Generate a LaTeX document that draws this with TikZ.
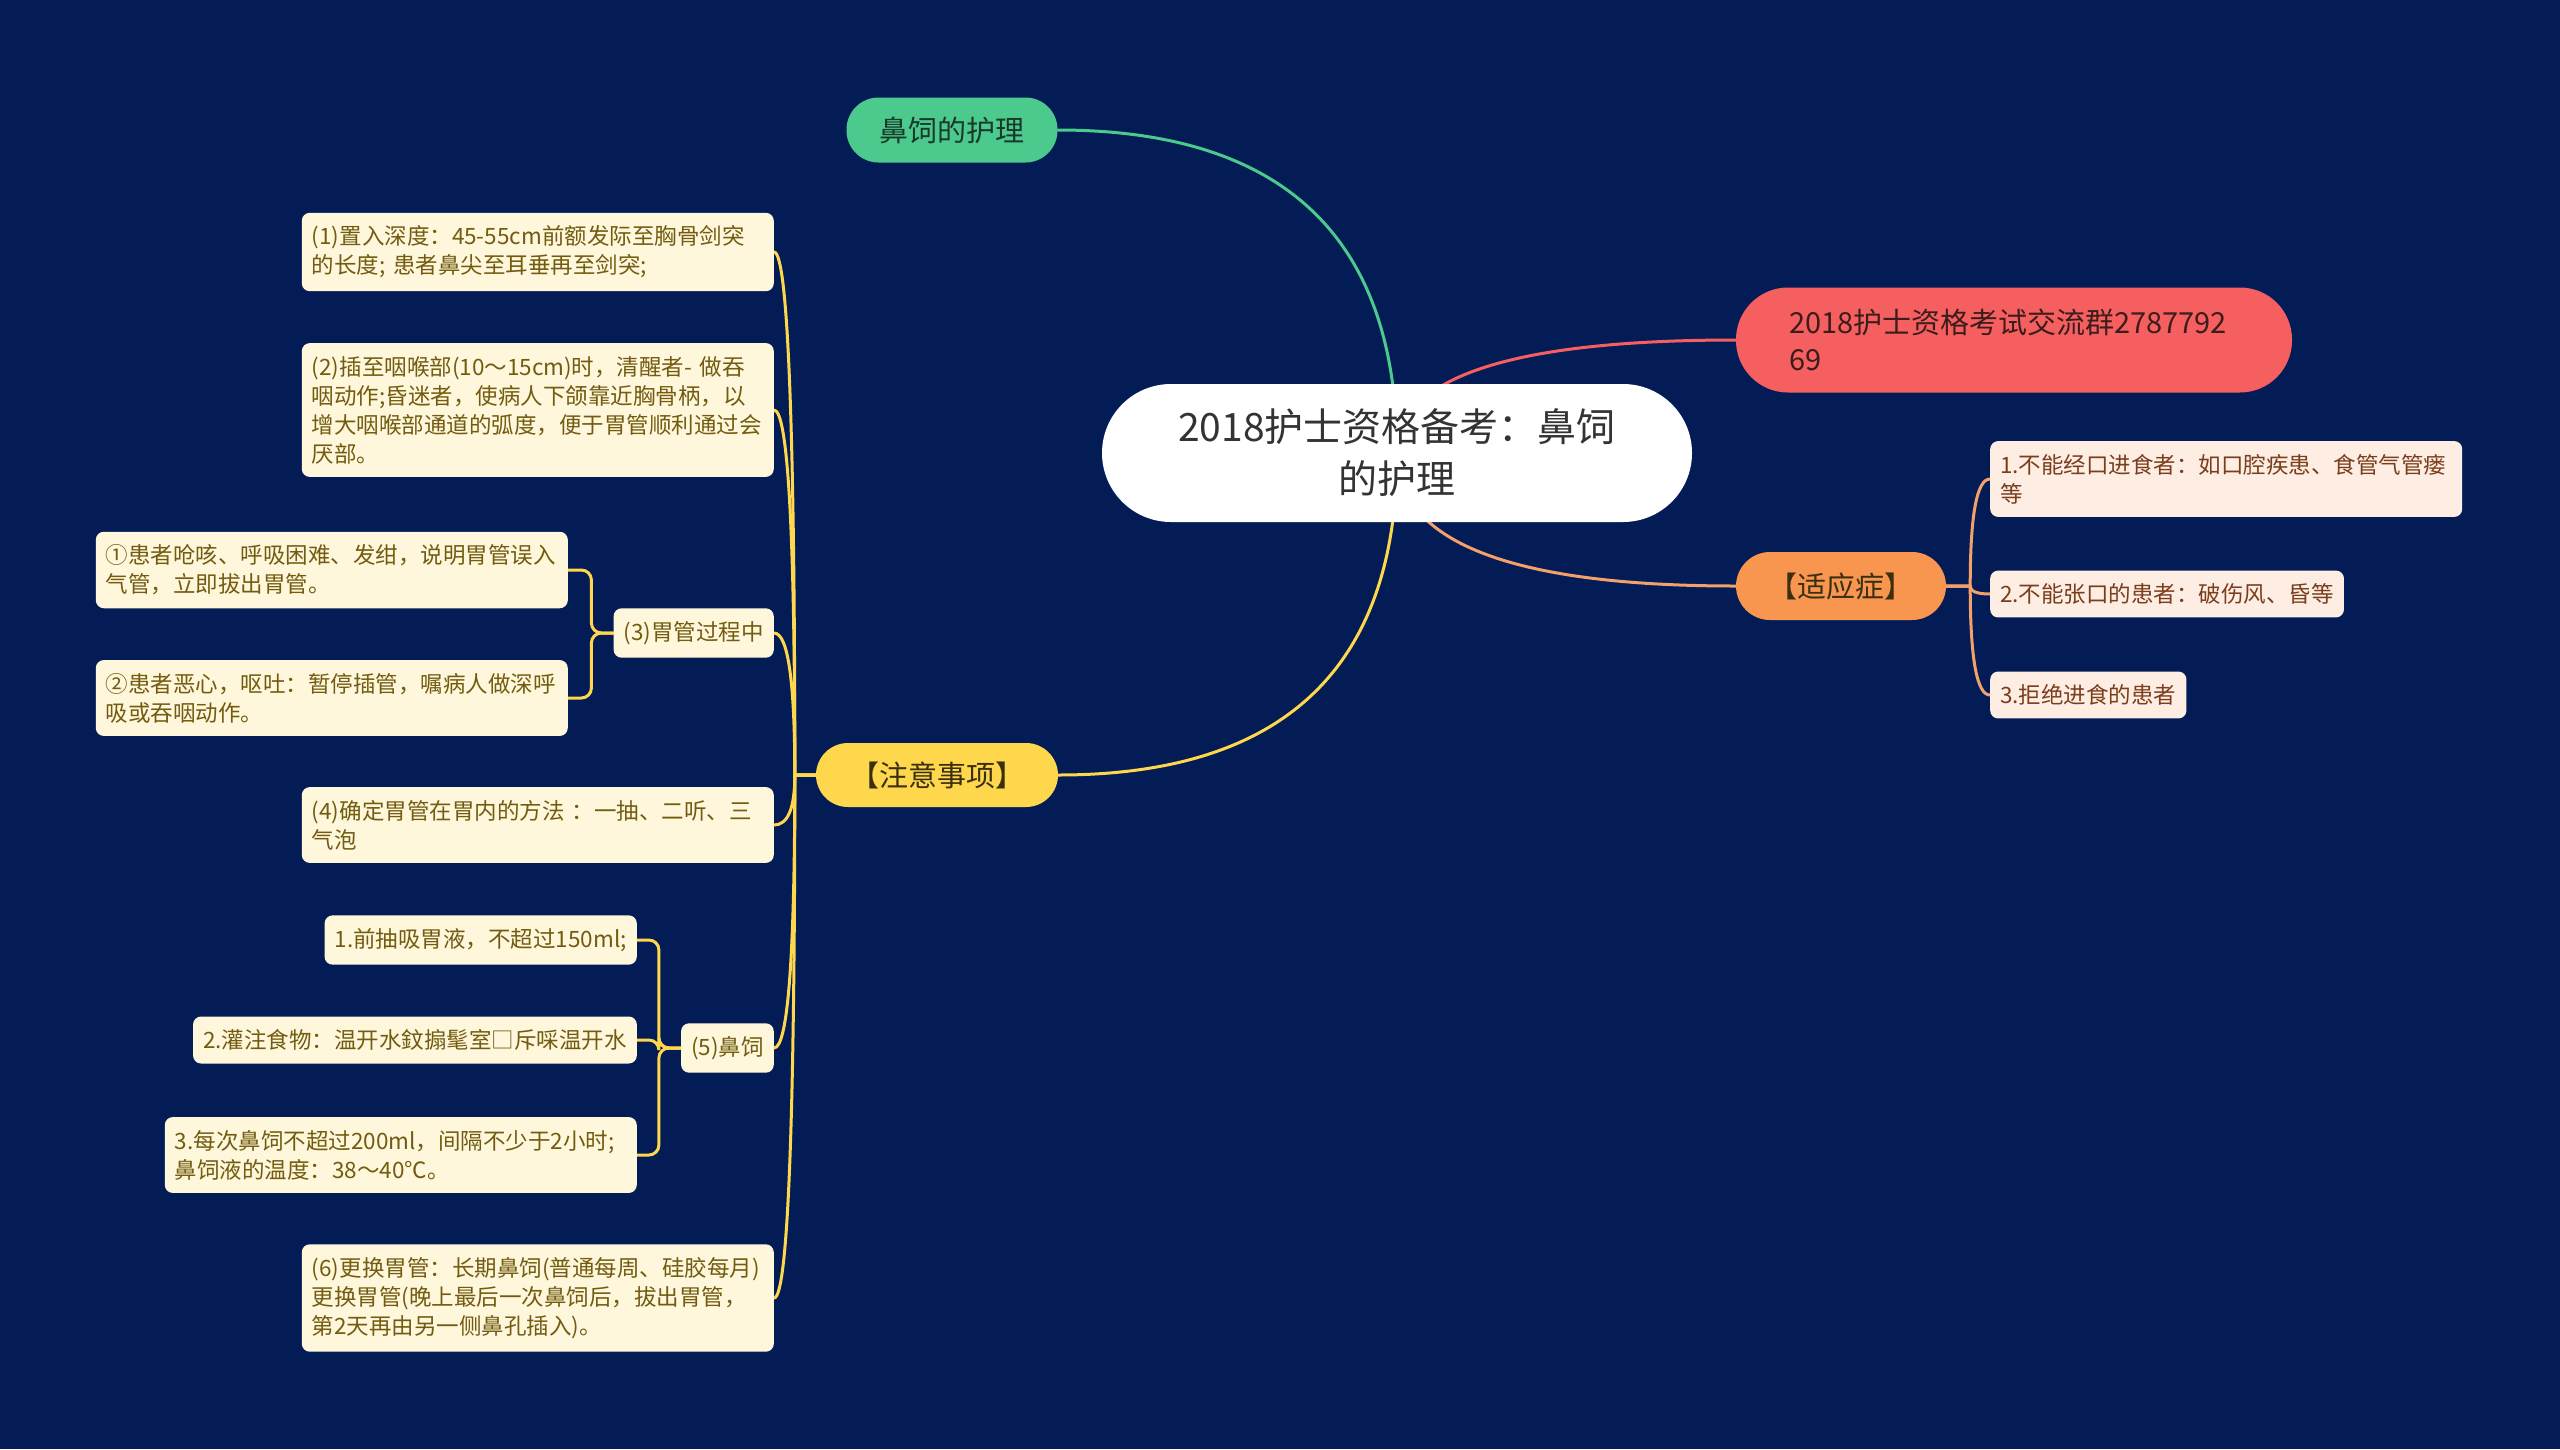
\documentclass[tikz,border=0pt]{standalone}
\usepackage{fontspec}
\setmainfont{Noto Sans CJK SC}
\usetikzlibrary{calc}

\definecolor{bgnavy}{HTML}{041C56}
\definecolor{rootgray}{HTML}{333333}
\definecolor{caregreen}{HTML}{4CC98C}
\definecolor{caretext}{HTML}{183A2A}
\definecolor{groupred}{HTML}{F65F5F}
\definecolor{grouptext}{HTML}{3C1C1C}
\definecolor{indorange}{HTML}{F8964F}
\definecolor{indline}{HTML}{F3A06A}
\definecolor{indtext}{HTML}{7A3E1C}
\definecolor{indcream}{HTML}{FDEDE3}
\definecolor{noteyellow}{HTML}{FED74C}
\definecolor{notedark}{HTML}{3A3010}
\definecolor{notecream}{HTML}{FEF7DC}
\definecolor{notetext}{HTML}{735C10}

\pgfdeclarelayer{bg}
\pgfdeclarelayer{links}
\pgfsetlayers{bg,links,main}

\tikzset{
  qcurve/.style={to path={.. controls ($(\tikztostart)!0.6667!(\tikztostart|-\tikztotarget)$)
    and ($(\tikztotarget)!0.6667!(\tikztostart|-\tikztotarget)$) .. (\tikztotarget)}},
}

\begin{document}
\begin{tikzpicture}[x=1pt, y=-1pt,
  rootbox/.style={fill=white, text=rootgray, rounded corners=69pt, minimum width=590pt,
    minimum height=138pt, align=center, font=\fontsize{39}{52}\selectfont},
  topic/.style={font=\fontsize{29}{37}\selectfont},
  noteleaf/.style={fill=notecream, text=notetext, rounded corners=8pt, inner xsep=10pt,
    inner ysep=13pt, align=left, anchor=east, font=\fontsize{22.5}{29}\selectfont},
  notewide/.style={noteleaf, text width=452pt},
  indleaf/.style={noteleaf, fill=indcream, text=indtext, anchor=west},
  link/.style={line width=3pt, line cap=round},
]
  % Background
  \begin{pgfonlayer}{bg}
    \fill[bgnavy] (0,0) rectangle (2560,1449);
  \end{pgfonlayer}
  \useasboundingbox (0,0) rectangle (2560,1449);

  % Root
  \node[rootbox] (root) at (1397,453) {2018护士资格备考：鼻饲\\的护理};

  % Main topics
  \node[topic, fill=caregreen, text=caretext, rounded corners=32pt, minimum width=211pt,
    minimum height=65pt] (care) at (952,130) {鼻饲的护理};
  \node[topic, fill=groupred, text=grouptext, rounded corners=52pt, minimum height=105pt,
    text width=450pt, inner xsep=53pt, align=left] (group) at (2014,340)
    {2018护士资格考试交流群2787792\\69};
  \node[topic, fill=noteyellow, text=notedark, rounded corners=32pt, minimum width=242pt,
    minimum height=64pt] (notes) at (937,775) {【注意事项】};
  \node[topic, fill=indorange, text=notedark, rounded corners=34pt, minimum width=210pt,
    minimum height=68pt] (indic) at (1841,586) {【适应症】};

  % Indications
  \node[indleaf, text width=452pt] (ind1) at (1990,479)
    {1.不能经口进食者：如口腔疾患、食管气管瘘\\等};
  \node[indleaf] (ind2) at (1990,594) {2.不能张口的患者：破伤风、昏等};
  \node[indleaf] (ind3) at (1990,695) {3.拒绝进食的患者};

  % Notes
  \node[notewide] (n1) at (774,252)
    {(1)置入深度：45-55cm前额发际至胸骨剑突\\的长度; 患者鼻尖至耳垂再至剑突;};
  \node[notewide] (n2) at (774,410)
    {(2)插至咽喉部(10～15cm)时，清醒者- 做吞\\咽动作;昏迷者，使病人下颌靠近胸骨柄，以\\增大咽喉部通道的弧度，便于胃管顺利通过会\\厌部。};
  \node[noteleaf] (n3) at (774,633) {(3)胃管过程中};
  \node[notewide] (n31) at (568,570)
    {①患者呛咳、呼吸困难、发绀，说明胃管误入\\气管，立即拔出胃管。};
  \node[notewide] (n32) at (568,698)
    {②患者恶心，呕吐：暂停插管，嘱病人做深呼\\吸或吞咽动作。};
  \node[notewide] (n4) at (774,825)
    {(4)确定胃管在胃内的方法 ：一抽、二听、三\\气泡};
  \node[noteleaf] (n5) at (774,1048) {(5)鼻饲};
  \node[noteleaf] (n51) at (637,940) {1.前抽吸胃液，不超过150ml;};
  \node[noteleaf] (n52) at (637,1040) {2.灌注食物：温开水鈫搧髦室□斥啋温开水};
  \node[notewide] (n53) at (637,1155)
    {3.每次鼻饲不超过200ml，间隔不少于2小时;\\鼻饲液的温度：38～40℃。};
  \node[notewide] (n6) at (774,1298)
    {(6)更换胃管：长期鼻饲(普通每周、硅胶每月)\\更换胃管(晚上最后一次鼻饲后，拔出胃管，\\第2天再由另一侧鼻孔插入)。};

  % Spine points
  \coordinate (nspine) at ([xshift=-21pt]notes.west);
  \coordinate (ispine) at ([xshift=24pt]indic.east);
  \coordinate (s3) at ([xshift=-22pt]n3.west);
  \coordinate (s5) at ([xshift=-22pt]n5.west);

  % Connectors
  \begin{pgfonlayer}{links}
    \draw[link, caregreen] (root.center) to[qcurve] (care.east);
    \draw[link, groupred] (root.center) to[qcurve] (group.west);
    \draw[link, noteyellow] (root.center) to[qcurve] (notes.east);
    \draw[link, indline] (root.center) to[qcurve] (indic.west);

    \foreach \leaf in {ind1,ind2,ind3}
      \draw[link, indline] (indic.east) -- (ispine) to[qcurve] (\leaf.west);
    \foreach \leaf in {n1,n2,n3,n4,n5,n6}
      \draw[link, noteyellow] (notes.west) -- (nspine) to[qcurve] (\leaf.east);
    \foreach \leaf in {n31,n32}
      \draw[link, noteyellow, rounded corners=10pt] (n3.west) -- (s3) |- (\leaf.east);
    \foreach \leaf in {n51,n52,n53}
      \draw[link, noteyellow, rounded corners=10pt] (n5.west) -- (s5) |- (\leaf.east);
  \end{pgfonlayer}
\end{tikzpicture}
\end{document}
